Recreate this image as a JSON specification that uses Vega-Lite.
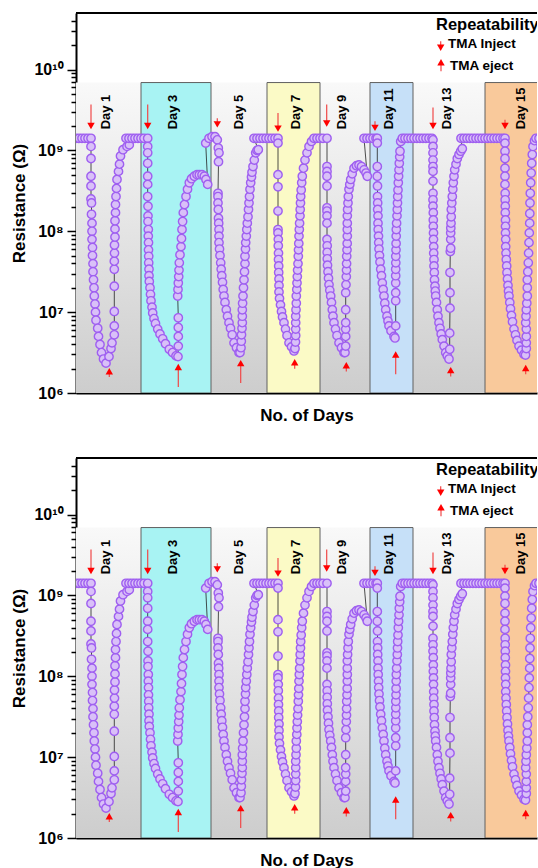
{
"$schema": "https://vega.github.io/schema/vega-lite/v6.json",
"background": "white",
"padding": {"left": 10, "top": 12, "right": 0, "bottom": 0},
"spacing": 34,
"config": {"view": {"stroke": null}, "font": "Liberation Sans", "text": {"font": "Liberation Sans"}, "axis": {"labelFont": "Liberation Sans", "titleFont": "Liberation Sans"}},
"datasets": {
"regions": [{"z":"plain","a":0,"b":65},{"z":"cyan","a":65,"b":135},{"z":"plain","a":135,"b":191},{"z":"yellow","a":191,"b":244},{"z":"plain","a":244,"b":294},{"z":"blue","a":294,"b":337},{"z":"plain","a":337,"b":409},{"z":"orange","a":409,"b":470}],
"arrows": [
{"t":15,"tip":2.0e9,"tail":3.7e9,"dir":"down"},{"t":71.7,"tip":2.0e9,"tail":3.7e9,"dir":"down"},{"t":141.3,"tip":2.1e9,"tail":2.5e9,"dir":"down"},{"t":202,"tip":1.86e9,"tail":2.9e9,"dir":"down"},{"t":250.7,"tip":2.15e9,"tail":3.7e9,"dir":"down"},{"t":299,"tip":1.9e9,"tail":2.3e9,"dir":"down"},{"t":357,"tip":2.0e9,"tail":3.4e9,"dir":"down"},{"t":429,"tip":2.0e9,"tail":2.4e9,"dir":"down"},
{"t":33.3,"tip":1.86e6,"tail":1.58e6,"dir":"up"},{"t":102.3,"tip":2.1e6,"tail":1.19e6,"dir":"up"},{"t":164.7,"tip":2.34e6,"tail":1.33e6,"dir":"up"},{"t":218.7,"tip":2.4e6,"tail":2.0e6,"dir":"up"},{"t":270.3,"tip":2.2e6,"tail":1.85e6,"dir":"up"},{"t":319.7,"tip":3.0e6,"tail":1.7e6,"dir":"up"},{"t":374.7,"tip":1.92e6,"tail":1.6e6,"dir":"up"},{"t":449.7,"tip":2.04e6,"tail":1.7e6,"dir":"up"},
{"t":364.7,"tip":1.86e10,"tail":2.24e10,"dir":"down"},{"t":365,"tip":1.23e10,"tail":9.5e9,"dir":"up"}],
"days": [{"t":30,"r":1.82e9,"txt":"Day 1"},{"t":97,"r":1.82e9,"txt":"Day 3"},{"t":163,"r":1.82e9,"txt":"Day 5"},{"t":220,"r":1.82e9,"txt":"Day 7"},{"t":266,"r":1.82e9,"txt":"Day 9"},{"t":313,"r":1.82e9,"txt":"Day 11"},{"t":371,"r":1.82e9,"txt":"Day 13"},{"t":445,"r":1.82e9,"txt":"Day 15"}],
"legend": [{"t":360,"r":3.6e10,"txt":"Repeatability","k":"h"},{"t":372,"r":2.04e10,"txt":"TMA Inject","k":"s"},{"t":374,"r":1.09e10,"txt":"TMA eject","k":"s"}],
"pts": [
{"t":0,"r":1.41e9},{"t":3,"r":1.41e9},{"t":6,"r":1.41e9},{"t":9,"r":1.41e9},{"t":12,"r":1.41e9},{"t":15,"r":1.41e9},
{"t":15,"r":1.12e9},{"t":15,"r":7.94e8},{"t":15,"r":4.79e8},{"t":15,"r":3.63e8},{"t":15,"r":2.51e8},{"t":15.5,"r":2.24e8},{"t":15.5,"r":1.62e8},{"t":16,"r":1.26e8},{"t":16,"r":1.0e8},{"t":16,"r":7.94e7},{"t":16.5,"r":6.31e7},{"t":16.5,"r":5.01e7},{"t":17,"r":3.98e7},{"t":17,"r":3.16e7},{"t":17.5,"r":2.51e7},{"t":18,"r":2.0e7},{"t":18.3,"r":1.58e7},{"t":19,"r":1.26e7},{"t":19.5,"r":1.0e7},{"t":20,"r":7.94e6},{"t":21.7,"r":6.31e6},{"t":22.5,"r":5.01e6},{"t":24,"r":3.98e6},{"t":25.5,"r":3.16e6},{"t":27.5,"r":2.63e6},{"t":30,"r":2.34e6},
{"t":33,"r":2.82e6},{"t":35,"r":3.55e6},{"t":36,"r":4.17e6},{"t":38.3,"r":5.25e6},{"t":38.3,"r":6.76e6},{"t":38.3,"r":1.02e7},{"t":38.3,"r":2.09e7},{"t":38.3,"r":3.39e7},{"t":38.3,"r":4.27e7},{"t":38.5,"r":5.37e7},{"t":38.5,"r":6.76e7},{"t":39,"r":8.51e7},{"t":39,"r":1.07e8},{"t":39,"r":1.35e8},{"t":39.5,"r":1.70e8},{"t":39.5,"r":2.14e8},{"t":40,"r":2.69e8},{"t":40.5,"r":3.39e8},{"t":41,"r":4.37e8},{"t":42.5,"r":5.50e8},{"t":43.5,"r":6.76e8},{"t":44.5,"r":8.51e8},{"t":47,"r":1.02e9},{"t":51,"r":1.12e9},{"t":53.3,"r":1.17e9},
{"t":50,"r":1.41e9},{"t":53,"r":1.41e9},{"t":56,"r":1.41e9},{"t":59,"r":1.41e9},{"t":62,"r":1.41e9},{"t":65,"r":1.41e9},{"t":68,"r":1.41e9},{"t":71.7,"r":1.41e9},
{"t":71.7,"r":1.12e9},{"t":71.7,"r":9.33e8},{"t":71.7,"r":6.92e8},{"t":71.7,"r":4.79e8},{"t":71.7,"r":3.80e8},{"t":71.7,"r":2.69e8},{"t":72,"r":2.04e8},{"t":72,"r":1.55e8},{"t":72,"r":1.32e8},{"t":72.3,"r":1.05e8},{"t":72.3,"r":8.71e7},{"t":72.5,"r":7.24e7},{"t":72.5,"r":5.89e7},{"t":72.7,"r":4.90e7},{"t":72.7,"r":4.07e7},{"t":73,"r":3.39e7},{"t":73,"r":2.82e7},{"t":73.3,"r":2.40e7},{"t":74,"r":2.0e7},{"t":74.5,"r":1.66e7},{"t":75,"r":1.38e7},{"t":76,"r":1.15e7},{"t":76.7,"r":9.77e6},{"t":78,"r":8.32e6},{"t":79.5,"r":7.24e6},{"t":81.7,"r":6.17e6},{"t":84,"r":5.37e6},{"t":86.7,"r":4.68e6},{"t":89.5,"r":4.07e6},{"t":93.3,"r":3.47e6},{"t":96.5,"r":3.16e6},{"t":100,"r":2.88e6},{"t":102,"r":2.82e6},
{"t":102.3,"r":3.80e6},{"t":102.3,"r":5.01e6},{"t":102.3,"r":6.46e6},{"t":102.3,"r":8.51e6},{"t":101.7,"r":1.58e7},{"t":102,"r":1.91e7},{"t":102.3,"r":2.29e7},{"t":102.7,"r":2.75e7},{"t":103,"r":3.31e7},{"t":103.3,"r":4.07e7},{"t":104,"r":5.13e7},{"t":105,"r":6.46e7},{"t":105.5,"r":8.13e7},{"t":106,"r":1.05e8},{"t":106.6,"r":1.32e8},{"t":107.3,"r":1.70e8},{"t":108.5,"r":2.14e8},{"t":110,"r":2.69e8},{"t":111.5,"r":3.31e8},{"t":113.3,"r":3.98e8},{"t":115.5,"r":4.47e8},{"t":118.3,"r":4.79e8},{"t":121,"r":5.01e8},{"t":123.3,"r":5.01e8},{"t":126,"r":5.01e8},{"t":128.3,"r":4.79e8},{"t":130,"r":4.37e8},{"t":131.7,"r":3.80e8},
{"t":129.7,"r":1.23e9},{"t":133,"r":1.41e9},{"t":136,"r":1.48e9},{"t":139,"r":1.48e9},{"t":141.3,"r":1.35e9},{"t":142.3,"r":1.07e9},{"t":143,"r":9.33e8},
{"t":142.5,"r":7.24e8},{"t":142,"r":2.95e8},{"t":142,"r":2.69e8},{"t":142,"r":2.24e8},{"t":142.3,"r":1.86e8},{"t":142.5,"r":1.45e8},{"t":142.7,"r":1.26e8},{"t":143,"r":1.05e8},{"t":143,"r":8.71e7},{"t":143,"r":7.24e7},{"t":143.5,"r":6.03e7},{"t":144,"r":5.01e7},{"t":144.7,"r":4.07e7},{"t":145.2,"r":3.39e7},{"t":145.8,"r":2.82e7},{"t":146.5,"r":2.34e7},{"t":147.2,"r":1.91e7},{"t":148,"r":1.58e7},{"t":149,"r":1.32e7},{"t":150.3,"r":1.07e7},{"t":151.5,"r":8.91e6},{"t":153,"r":7.41e6},{"t":154.5,"r":6.31e6},{"t":156.2,"r":5.25e6},{"t":158,"r":4.17e6},{"t":160.5,"r":3.63e6},{"t":163,"r":3.16e6},{"t":164,"r":3.16e6},
{"t":165,"r":3.63e6},{"t":165.3,"r":4.37e6},{"t":165.5,"r":5.25e6},{"t":166,"r":6.31e6},{"t":166.3,"r":7.41e6},{"t":166.3,"r":8.91e6},{"t":166.3,"r":1.07e7},{"t":166.6,"r":1.29e7},{"t":167,"r":1.58e7},{"t":167.5,"r":2.0e7},{"t":168,"r":2.51e7},{"t":168.5,"r":3.16e7},{"t":169,"r":3.98e7},{"t":169,"r":4.90e7},{"t":169.5,"r":6.03e7},{"t":169.7,"r":7.24e7},{"t":170.3,"r":8.71e7},{"t":170.8,"r":1.05e8},{"t":171.3,"r":1.26e8},{"t":172,"r":1.51e8},{"t":172.5,"r":1.86e8},{"t":173,"r":2.24e8},{"t":173.5,"r":2.69e8},{"t":174,"r":3.31e8},{"t":174.7,"r":3.98e8},{"t":175.5,"r":4.68e8},{"t":176,"r":5.37e8},{"t":177,"r":6.31e8},{"t":178.3,"r":7.59e8},{"t":179.7,"r":9.33e8},{"t":181,"r":1.0e9},{"t":182.3,"r":1.02e9},
{"t":178,"r":1.41e9},{"t":181,"r":1.41e9},{"t":184,"r":1.41e9},{"t":187,"r":1.41e9},{"t":190,"r":1.41e9},{"t":193,"r":1.41e9},{"t":196,"r":1.41e9},{"t":199,"r":1.41e9},{"t":202,"r":1.41e9},
{"t":202,"r":1.23e9},{"t":202,"r":5.01e8},{"t":202,"r":3.55e8},{"t":202,"r":1.78e8},{"t":202,"r":1.05e8},{"t":202,"r":9.55e7},{"t":202.3,"r":7.94e7},{"t":202.3,"r":6.61e7},{"t":202.5,"r":5.37e7},{"t":202.5,"r":4.47e7},{"t":202.7,"r":3.72e7},{"t":202.7,"r":3.09e7},{"t":203,"r":2.57e7},{"t":203,"r":2.14e7},{"t":203,"r":1.78e7},{"t":203.5,"r":1.48e7},{"t":204.5,"r":1.23e7},{"t":205.5,"r":1.02e7},{"t":206.5,"r":8.71e6},{"t":208,"r":7.41e6},{"t":209.5,"r":6.17e6},{"t":211,"r":5.13e6},{"t":213,"r":4.17e6},{"t":215.5,"r":3.72e6},{"t":218,"r":3.31e6},
{"t":219,"r":3.55e6},{"t":219.5,"r":4.27e6},{"t":219.7,"r":5.13e6},{"t":219.7,"r":6.17e6},{"t":219.7,"r":7.41e6},{"t":219.7,"r":8.91e6},{"t":220,"r":1.07e7},{"t":220.3,"r":1.29e7},{"t":220.3,"r":1.58e7},{"t":220.8,"r":1.91e7},{"t":221,"r":2.29e7},{"t":221.3,"r":2.75e7},{"t":221.6,"r":3.31e7},{"t":222,"r":3.98e7},{"t":222.3,"r":4.90e7},{"t":222.5,"r":5.89e7},{"t":222.8,"r":7.08e7},{"t":223,"r":8.71e7},{"t":223.3,"r":1.05e8},{"t":223.6,"r":1.26e8},{"t":224,"r":1.55e8},{"t":224.2,"r":1.86e8},{"t":224.5,"r":2.24e8},{"t":224.7,"r":2.69e8},{"t":225.2,"r":3.24e8},{"t":225.7,"r":3.98e8},{"t":226.3,"r":4.79e8},{"t":227.5,"r":6.03e8},{"t":229,"r":7.59e8},{"t":231,"r":9.33e8},{"t":233,"r":1.12e9},{"t":235.5,"r":1.29e9},{"t":238,"r":1.41e9},
{"t":241,"r":1.41e9},{"t":244,"r":1.41e9},{"t":247,"r":1.41e9},{"t":251,"r":1.41e9},
{"t":251,"r":6.31e8},{"t":251,"r":5.50e8},{"t":251,"r":4.79e8},{"t":251,"r":3.63e8},{"t":251,"r":1.95e8},{"t":251,"r":1.78e8},{"t":251,"r":1.55e8},{"t":251,"r":1.26e8},{"t":251,"r":7.94e7},{"t":251.2,"r":6.61e7},{"t":251.2,"r":5.50e7},{"t":251.3,"r":4.57e7},{"t":251.5,"r":3.80e7},{"t":252,"r":3.16e7},{"t":252.5,"r":2.63e7},{"t":253,"r":2.19e7},{"t":253.8,"r":1.86e7},{"t":254.7,"r":1.58e7},{"t":255.5,"r":1.32e7},{"t":256.3,"r":1.07e7},{"t":257,"r":8.91e6},{"t":258,"r":7.41e6},{"t":259.5,"r":6.17e6},{"t":261,"r":5.13e6},{"t":263,"r":4.17e6},{"t":265.5,"r":3.63e6},{"t":268,"r":3.16e6},{"t":269,"r":3.16e6},
{"t":269.7,"r":3.80e6},{"t":269.7,"r":5.01e6},{"t":269.7,"r":6.17e6},{"t":269.7,"r":7.41e6},{"t":269.7,"r":1.07e7},{"t":269.7,"r":1.74e7},{"t":270,"r":2.19e7},{"t":270.3,"r":2.75e7},{"t":270.5,"r":3.31e7},{"t":270.6,"r":3.98e7},{"t":270.7,"r":4.90e7},{"t":271,"r":5.89e7},{"t":271.2,"r":7.08e7},{"t":271.3,"r":8.71e7},{"t":271.3,"r":1.05e8},{"t":271.3,"r":1.26e8},{"t":271.3,"r":1.55e8},{"t":271.6,"r":1.86e8},{"t":272,"r":2.24e8},{"t":272.3,"r":2.69e8},{"t":273,"r":3.31e8},{"t":273.8,"r":3.80e8},{"t":274.7,"r":4.37e8},{"t":276.2,"r":5.13e8},{"t":278,"r":6.03e8},{"t":280.5,"r":6.46e8},{"t":283,"r":6.61e8},{"t":285.5,"r":6.31e8},{"t":288,"r":5.75e8},{"t":290,"r":5.25e8},{"t":291.3,"r":4.79e8},
{"t":288,"r":1.41e9},{"t":291,"r":1.41e9},{"t":294,"r":1.41e9},{"t":297,"r":1.41e9},{"t":300,"r":1.41e9},{"t":301.3,"r":1.41e9},
{"t":301.3,"r":1.23e9},{"t":301.3,"r":6.31e8},{"t":301.3,"r":4.79e8},{"t":301.5,"r":3.63e8},{"t":301.5,"r":2.69e8},{"t":301.7,"r":2.24e8},{"t":301.7,"r":1.86e8},{"t":302,"r":1.55e8},{"t":302,"r":1.26e8},{"t":302.2,"r":1.05e8},{"t":302.5,"r":8.71e7},{"t":302.7,"r":7.24e7},{"t":303,"r":6.03e7},{"t":303.5,"r":5.01e7},{"t":304,"r":4.17e7},{"t":304.7,"r":3.39e7},{"t":305.5,"r":2.82e7},{"t":306.3,"r":2.29e7},{"t":307.2,"r":1.91e7},{"t":308,"r":1.58e7},{"t":308.8,"r":1.29e7},{"t":309.7,"r":1.07e7},{"t":311,"r":8.91e6},{"t":312,"r":7.76e6},{"t":313,"r":6.76e6},{"t":315,"r":5.89e6},{"t":318,"r":5.01e6},{"t":319,"r":4.79e6},
{"t":319.7,"r":6.76e6},{"t":319.7,"r":1.38e7},{"t":319.7,"r":1.74e7},{"t":319.7,"r":2.29e7},{"t":319.7,"r":2.82e7},{"t":319.7,"r":3.39e7},{"t":319.8,"r":4.07e7},{"t":319.8,"r":4.90e7},{"t":320,"r":5.89e7},{"t":320.1,"r":7.08e7},{"t":320.2,"r":8.71e7},{"t":320.3,"r":1.05e8},{"t":320.6,"r":1.26e8},{"t":321,"r":1.55e8},{"t":321.3,"r":1.86e8},{"t":321.5,"r":2.24e8},{"t":321.7,"r":2.69e8},{"t":322,"r":3.24e8},{"t":322.3,"r":3.98e8},{"t":322.6,"r":4.79e8},{"t":323,"r":5.75e8},{"t":323.3,"r":6.92e8},{"t":323.7,"r":8.32e8},{"t":324,"r":9.77e8},{"t":324.7,"r":1.29e9},{"t":326.3,"r":1.41e9},
{"t":329,"r":1.41e9},{"t":332,"r":1.41e9},{"t":335,"r":1.41e9},{"t":338,"r":1.41e9},{"t":341,"r":1.41e9},{"t":344,"r":1.41e9},{"t":347,"r":1.41e9},{"t":350,"r":1.41e9},{"t":353,"r":1.41e9},{"t":356,"r":1.41e9},
{"t":357,"r":1.35e9},{"t":357,"r":1.12e9},{"t":357,"r":9.33e8},{"t":357,"r":7.59e8},{"t":357,"r":6.31e8},{"t":357,"r":5.50e8},{"t":357,"r":4.17e8},{"t":357,"r":2.95e8},{"t":357,"r":2.45e8},{"t":357,"r":2.04e8},{"t":357.3,"r":1.70e8},{"t":357.3,"r":1.38e8},{"t":357.3,"r":1.15e8},{"t":357.5,"r":9.55e7},{"t":357.5,"r":7.94e7},{"t":357.7,"r":6.46e7},{"t":357.7,"r":5.37e7},{"t":358,"r":4.47e7},{"t":358,"r":3.72e7},{"t":358.3,"r":3.09e7},{"t":358.5,"r":2.51e7},{"t":359,"r":2.09e7},{"t":359.3,"r":1.82e7},{"t":359.7,"r":1.58e7},{"t":360.5,"r":1.32e7},{"t":361.3,"r":1.07e7},{"t":362,"r":8.91e6},{"t":363,"r":7.41e6},{"t":364,"r":6.31e6},{"t":365.2,"r":5.37e6},{"t":366.3,"r":4.57e6},{"t":368,"r":3.80e6},{"t":369.7,"r":3.16e6},{"t":371.3,"r":2.88e6},{"t":373,"r":2.63e6},
{"t":373.7,"r":3.47e6},{"t":373.7,"r":5.50e6},{"t":374,"r":1.12e7},{"t":374,"r":1.74e7},{"t":374,"r":3.09e7},{"t":374.3,"r":5.62e7},{"t":374.7,"r":6.17e7},{"t":374.7,"r":7.94e7},{"t":374.7,"r":9.55e7},{"t":374.8,"r":1.10e8},{"t":375,"r":1.26e8},{"t":375.2,"r":1.51e8},{"t":375.3,"r":1.86e8},{"t":375.8,"r":2.24e8},{"t":376.3,"r":2.69e8},{"t":376.8,"r":3.31e8},{"t":377.3,"r":3.98e8},{"t":378,"r":4.79e8},{"t":378.7,"r":5.75e8},{"t":380,"r":6.76e8},{"t":381.3,"r":7.94e8},{"t":383,"r":8.91e8},{"t":384.7,"r":9.77e8},{"t":386.3,"r":1.05e9},
{"t":385,"r":1.41e9},{"t":388,"r":1.41e9},{"t":391,"r":1.41e9},{"t":394,"r":1.41e9},{"t":397,"r":1.41e9},{"t":400,"r":1.41e9},{"t":403,"r":1.41e9},{"t":406,"r":1.41e9},{"t":409,"r":1.41e9},{"t":412,"r":1.41e9},{"t":415,"r":1.41e9},{"t":418,"r":1.41e9},{"t":421,"r":1.41e9},{"t":424,"r":1.41e9},{"t":427,"r":1.41e9},{"t":429,"r":1.41e9},
{"t":429,"r":1.23e9},{"t":429,"r":9.77e8},{"t":429,"r":7.94e8},{"t":429,"r":6.03e8},{"t":429,"r":4.79e8},{"t":429,"r":3.80e8},{"t":429.2,"r":2.95e8},{"t":429.2,"r":2.45e8},{"t":429.3,"r":2.04e8},{"t":429.3,"r":1.70e8},{"t":429.5,"r":1.38e8},{"t":429.5,"r":1.15e8},{"t":429.5,"r":9.55e7},{"t":429.7,"r":7.94e7},{"t":429.7,"r":6.46e7},{"t":430,"r":5.37e7},{"t":430.3,"r":4.47e7},{"t":430.7,"r":3.72e7},{"t":431,"r":3.09e7},{"t":431.5,"r":2.57e7},{"t":432,"r":2.14e7},{"t":432.5,"r":1.82e7},{"t":433,"r":1.58e7},{"t":433.8,"r":1.32e7},{"t":434.5,"r":1.10e7},{"t":435.5,"r":9.12e6},{"t":436.5,"r":7.59e6},{"t":438,"r":6.17e6},{"t":439.5,"r":5.25e6},{"t":441,"r":4.47e6},{"t":443,"r":3.80e6},{"t":445.5,"r":3.39e6},{"t":448,"r":3.02e6},{"t":449.5,"r":2.95e6},
{"t":450.3,"r":3.55e6},{"t":450.3,"r":4.17e6},{"t":450.3,"r":5.01e6},{"t":450.3,"r":6.17e6},{"t":449.7,"r":7.41e6},{"t":450,"r":8.91e6},{"t":450.3,"r":1.07e7},{"t":450.8,"r":1.29e7},{"t":451.3,"r":1.58e7},{"t":451.3,"r":2.0e7},{"t":451.3,"r":2.51e7},{"t":451.8,"r":3.16e7},{"t":452.3,"r":4.07e7},{"t":452.6,"r":5.37e7},{"t":453,"r":7.24e7},{"t":453.3,"r":9.55e7},{"t":453.7,"r":1.26e8},{"t":453.8,"r":1.66e8},{"t":454,"r":2.24e8},{"t":454.3,"r":2.95e8},{"t":454.7,"r":3.98e8},{"t":455.2,"r":5.25e8},{"t":455.7,"r":6.92e8},{"t":456.3,"r":8.91e8},{"t":457,"r":1.12e9},{"t":458.5,"r":1.32e9},{"t":460,"r":1.41e9},{"t":463,"r":1.41e9}
]
},
"vconcat": [
{
"width": 461, "height": 380,
"layer": [
{"data": {"name": "regions"}, "transform": [{"filter": "datum.z == 'plain'"}],
 "mark": {"type": "rect", "clip": true, "fill": {"gradient": "linear", "x1": 0, "y1": 0, "x2": 0, "y2": 1, "stops": [{"offset": 0, "color": "#f9f9f9"}, {"offset": 1, "color": "#cdcdcd"}]}},
 "encoding": {
  "x": {"field": "a", "type": "quantitative", "scale": {"domain": [0, 461]}, "axis": {"title": "No. of Days", "titleFontSize": 17, "titleFontWeight": "bold", "titleColor": "black", "titlePadding": 14, "labels": false, "ticks": false, "grid": false, "domainColor": "black", "domainWidth": 2}},
  "x2": {"field": "b"},
  "y": {"datum": 1000000, "type": "quantitative", "scale": {"type": "log", "domain": [1000000, 50000000000]}, "axis": {"title": "Resistance (Ω)", "titleFontSize": 17, "titleFontWeight": "bold", "titleColor": "black", "titlePadding": 5, "grid": false, "domainColor": "black", "domainWidth": 2, "tickColor": "black", "tickWidth": 1.5, "labelFontSize": 16, "labelFontWeight": "bold", "labelColor": "black", "labelPadding": 4, "labelOverlap": false,
   "values": [1e6,2e6,3e6,4e6,5e6,6e6,7e6,8e6,9e6,1e7,2e7,3e7,4e7,5e7,6e7,7e7,8e7,9e7,1e8,2e8,3e8,4e8,5e8,6e8,7e8,8e8,9e8,1e9,2e9,3e9,4e9,5e9,6e9,7e9,8e9,9e9,1e10,2e10,3e10,4e10],
   "labelExpr": "datum.value==1000000?'10⁶':datum.value==10000000?'10⁷':datum.value==100000000?'10⁸':datum.value==1000000000?'10⁹':datum.value==10000000000?'10¹⁰':''",
   "tickSize": {"condition": {"test": "datum.value==1000000||datum.value==10000000||datum.value==100000000||datum.value==1000000000||datum.value==10000000000", "value": 9}, "value": 5}}},
  "y2": {"datum": 6900000000}}},
{"data": {"name": "regions"}, "transform": [{"filter": "datum.z != 'plain'"}],
 "mark": {"type": "rect", "clip": true, "stroke": "#606060", "strokeWidth": 1},
 "encoding": {
  "x": {"field": "a", "type": "quantitative", "scale": {"domain": [0, 461]}},
  "x2": {"field": "b"},
  "y": {"datum": 1000000, "type": "quantitative", "scale": {"type": "log", "domain": [1000000, 50000000000]}},
  "y2": {"datum": 6900000000},
  "fill": {"field": "z", "type": "nominal", "scale": {"domain": ["cyan", "yellow", "blue", "orange"], "range": ["#a8f3f3", "#fbfac6", "#c6e0f8", "#f9c99b"]}, "legend": null}}},
{"data": {"name": "pts"}, "transform": [{"window": [{"op": "row_number", "as": "i"}]}],
 "mark": {"type": "line", "clip": true, "color": "#222222", "strokeWidth": 0.8},
 "encoding": {
  "x": {"field": "t", "type": "quantitative", "scale": {"domain": [0, 461]}},
  "y": {"field": "r", "type": "quantitative", "scale": {"type": "log", "domain": [1000000, 50000000000]}},
  "order": {"field": "i", "type": "quantitative"}}},
{"data": {"name": "pts"},
 "mark": {"type": "circle", "clip": true, "size": 70, "fill": "#d9c0f8", "stroke": "#9f5ff0", "strokeWidth": 1.4, "opacity": 1},
 "encoding": {
  "x": {"field": "t", "type": "quantitative", "scale": {"domain": [0, 461]}},
  "y": {"field": "r", "type": "quantitative", "scale": {"type": "log", "domain": [1000000, 50000000000]}}}},
{"data": {"name": "arrows"},
 "mark": {"type": "rule", "clip": true, "color": "#f04848", "strokeWidth": 1.2},
 "encoding": {
  "x": {"field": "t", "type": "quantitative", "scale": {"domain": [0, 461]}},
  "y": {"field": "tail", "type": "quantitative", "scale": {"type": "log", "domain": [1000000, 50000000000]}},
  "y2": {"field": "tip"}}},
{"data": {"name": "arrows"},
 "mark": {"type": "point", "filled": true, "clip": true, "size": 55, "color": "#ff0000", "opacity": 1},
 "encoding": {
  "x": {"field": "t", "type": "quantitative", "scale": {"domain": [0, 461]}},
  "y": {"field": "tip", "type": "quantitative", "scale": {"type": "log", "domain": [1000000, 50000000000]}},
  "shape": {"field": "dir", "type": "nominal", "scale": {"domain": ["down", "up"], "range": ["triangle-down", "triangle-up"]}, "legend": null}}},
{"data": {"name": "days"},
 "mark": {"type": "text", "angle": 270, "align": "left", "baseline": "middle", "fontSize": 13, "fontWeight": "bold", "color": "black"},
 "encoding": {
  "x": {"field": "t", "type": "quantitative", "scale": {"domain": [0, 461]}},
  "y": {"field": "r", "type": "quantitative", "scale": {"type": "log", "domain": [1000000, 50000000000]}},
  "text": {"field": "txt"}}},
{"data": {"name": "legend"}, "transform": [{"filter": "datum.k == 'h'"}],
 "mark": {"type": "text", "clip": true, "align": "left", "baseline": "middle", "fontSize": 16.5, "fontWeight": "bold", "color": "black"},
 "encoding": {
  "x": {"field": "t", "type": "quantitative", "scale": {"domain": [0, 461]}},
  "y": {"field": "r", "type": "quantitative", "scale": {"type": "log", "domain": [1000000, 50000000000]}},
  "text": {"field": "txt"}}},
{"data": {"name": "legend"}, "transform": [{"filter": "datum.k == 's'"}],
 "mark": {"type": "text", "clip": true, "align": "left", "baseline": "middle", "fontSize": 13.5, "fontWeight": "bold", "color": "black"},
 "encoding": {
  "x": {"field": "t", "type": "quantitative", "scale": {"domain": [0, 461]}},
  "y": {"field": "r", "type": "quantitative", "scale": {"type": "log", "domain": [1000000, 50000000000]}},
  "text": {"field": "txt"}}},
{"data": {"values": [{}]},
 "mark": {"type": "rule", "color": "black", "strokeWidth": 2},
 "encoding": {"y": {"datum": 50000000000, "type": "quantitative", "scale": {"type": "log", "domain": [1000000, 50000000000]}}}}
]
},
{
"width": 461, "height": 380,
"layer": [
{"data": {"name": "regions"}, "transform": [{"filter": "datum.z == 'plain'"}],
 "mark": {"type": "rect", "clip": true, "fill": {"gradient": "linear", "x1": 0, "y1": 0, "x2": 0, "y2": 1, "stops": [{"offset": 0, "color": "#f9f9f9"}, {"offset": 1, "color": "#cdcdcd"}]}},
 "encoding": {
  "x": {"field": "a", "type": "quantitative", "scale": {"domain": [0, 461]}, "axis": {"title": "No. of Days", "titleFontSize": 17, "titleFontWeight": "bold", "titleColor": "black", "titlePadding": 14, "labels": false, "ticks": false, "grid": false, "domainColor": "black", "domainWidth": 2}},
  "x2": {"field": "b"},
  "y": {"datum": 1000000, "type": "quantitative", "scale": {"type": "log", "domain": [1000000, 50000000000]}, "axis": {"title": "Resistance (Ω)", "titleFontSize": 17, "titleFontWeight": "bold", "titleColor": "black", "titlePadding": 5, "grid": false, "domainColor": "black", "domainWidth": 2, "tickColor": "black", "tickWidth": 1.5, "labelFontSize": 16, "labelFontWeight": "bold", "labelColor": "black", "labelPadding": 4, "labelOverlap": false,
   "values": [1e6,2e6,3e6,4e6,5e6,6e6,7e6,8e6,9e6,1e7,2e7,3e7,4e7,5e7,6e7,7e7,8e7,9e7,1e8,2e8,3e8,4e8,5e8,6e8,7e8,8e8,9e8,1e9,2e9,3e9,4e9,5e9,6e9,7e9,8e9,9e9,1e10,2e10,3e10,4e10],
   "labelExpr": "datum.value==1000000?'10⁶':datum.value==10000000?'10⁷':datum.value==100000000?'10⁸':datum.value==1000000000?'10⁹':datum.value==10000000000?'10¹⁰':''",
   "tickSize": {"condition": {"test": "datum.value==1000000||datum.value==10000000||datum.value==100000000||datum.value==1000000000||datum.value==10000000000", "value": 9}, "value": 5}}},
  "y2": {"datum": 6900000000}}},
{"data": {"name": "regions"}, "transform": [{"filter": "datum.z != 'plain'"}],
 "mark": {"type": "rect", "clip": true, "stroke": "#606060", "strokeWidth": 1},
 "encoding": {
  "x": {"field": "a", "type": "quantitative", "scale": {"domain": [0, 461]}},
  "x2": {"field": "b"},
  "y": {"datum": 1000000, "type": "quantitative", "scale": {"type": "log", "domain": [1000000, 50000000000]}},
  "y2": {"datum": 6900000000},
  "fill": {"field": "z", "type": "nominal", "scale": {"domain": ["cyan", "yellow", "blue", "orange"], "range": ["#a8f3f3", "#fbfac6", "#c6e0f8", "#f9c99b"]}, "legend": null}}},
{"data": {"name": "pts"}, "transform": [{"window": [{"op": "row_number", "as": "i"}]}],
 "mark": {"type": "line", "clip": true, "color": "#222222", "strokeWidth": 0.8},
 "encoding": {
  "x": {"field": "t", "type": "quantitative", "scale": {"domain": [0, 461]}},
  "y": {"field": "r", "type": "quantitative", "scale": {"type": "log", "domain": [1000000, 50000000000]}},
  "order": {"field": "i", "type": "quantitative"}}},
{"data": {"name": "pts"},
 "mark": {"type": "circle", "clip": true, "size": 70, "fill": "#d9c0f8", "stroke": "#9f5ff0", "strokeWidth": 1.4, "opacity": 1},
 "encoding": {
  "x": {"field": "t", "type": "quantitative", "scale": {"domain": [0, 461]}},
  "y": {"field": "r", "type": "quantitative", "scale": {"type": "log", "domain": [1000000, 50000000000]}}}},
{"data": {"name": "arrows"},
 "mark": {"type": "rule", "clip": true, "color": "#f04848", "strokeWidth": 1.2},
 "encoding": {
  "x": {"field": "t", "type": "quantitative", "scale": {"domain": [0, 461]}},
  "y": {"field": "tail", "type": "quantitative", "scale": {"type": "log", "domain": [1000000, 50000000000]}},
  "y2": {"field": "tip"}}},
{"data": {"name": "arrows"},
 "mark": {"type": "point", "filled": true, "clip": true, "size": 55, "color": "#ff0000", "opacity": 1},
 "encoding": {
  "x": {"field": "t", "type": "quantitative", "scale": {"domain": [0, 461]}},
  "y": {"field": "tip", "type": "quantitative", "scale": {"type": "log", "domain": [1000000, 50000000000]}},
  "shape": {"field": "dir", "type": "nominal", "scale": {"domain": ["down", "up"], "range": ["triangle-down", "triangle-up"]}, "legend": null}}},
{"data": {"name": "days"},
 "mark": {"type": "text", "angle": 270, "align": "left", "baseline": "middle", "fontSize": 13, "fontWeight": "bold", "color": "black"},
 "encoding": {
  "x": {"field": "t", "type": "quantitative", "scale": {"domain": [0, 461]}},
  "y": {"field": "r", "type": "quantitative", "scale": {"type": "log", "domain": [1000000, 50000000000]}},
  "text": {"field": "txt"}}},
{"data": {"name": "legend"}, "transform": [{"filter": "datum.k == 'h'"}],
 "mark": {"type": "text", "clip": true, "align": "left", "baseline": "middle", "fontSize": 16.5, "fontWeight": "bold", "color": "black"},
 "encoding": {
  "x": {"field": "t", "type": "quantitative", "scale": {"domain": [0, 461]}},
  "y": {"field": "r", "type": "quantitative", "scale": {"type": "log", "domain": [1000000, 50000000000]}},
  "text": {"field": "txt"}}},
{"data": {"name": "legend"}, "transform": [{"filter": "datum.k == 's'"}],
 "mark": {"type": "text", "clip": true, "align": "left", "baseline": "middle", "fontSize": 13.5, "fontWeight": "bold", "color": "black"},
 "encoding": {
  "x": {"field": "t", "type": "quantitative", "scale": {"domain": [0, 461]}},
  "y": {"field": "r", "type": "quantitative", "scale": {"type": "log", "domain": [1000000, 50000000000]}},
  "text": {"field": "txt"}}},
{"data": {"values": [{}]},
 "mark": {"type": "rule", "color": "black", "strokeWidth": 2},
 "encoding": {"y": {"datum": 50000000000, "type": "quantitative", "scale": {"type": "log", "domain": [1000000, 50000000000]}}}}
]
}
]
}
